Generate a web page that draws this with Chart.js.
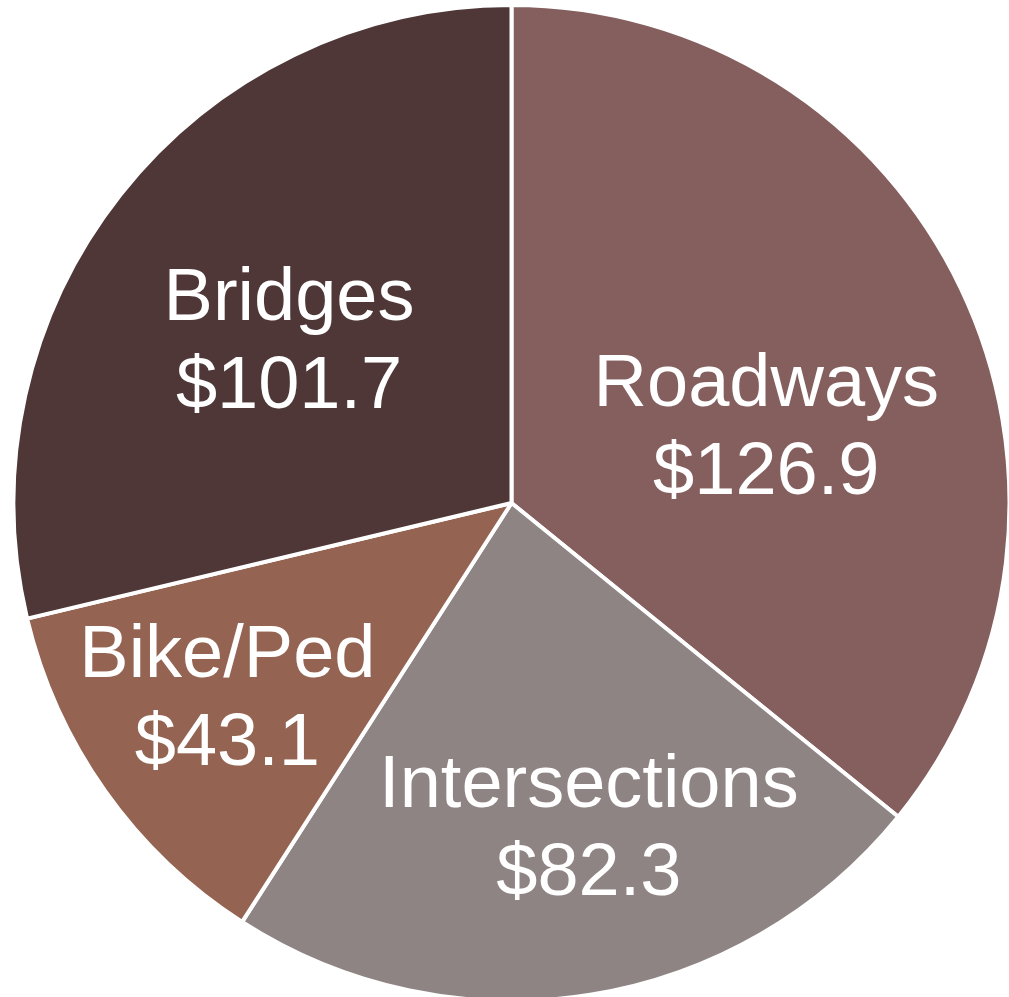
<!DOCTYPE html>
<html>
<head>
<meta charset="utf-8">
<script src="https://cdn.jsdelivr.net/npm/chart.js@4/dist/chart.umd.min.js"></script>
<style>
  html, body { margin: 0; padding: 0; background: #fff; overflow: hidden; }
  canvas { display: block; }
</style>
</head>
<body>
<canvas id="spendChart" width="1009" height="997"></canvas>
<script>
// Program spending by category ($ millions)
const categories = ['Roadways', 'Intersections', 'Bike/Ped', 'Bridges'];
const amounts = [126.9, 82.3, 43.1, 101.7];
const sliceColors = ['#855e5e', '#8f8484', '#946351', '#4f3738'];

// nudges from each slice's centroid to where its label sits
const labelNudge = [[30, 34], [38, 82], [-81, 54], [-27, -5]];

const sliceLabels = {
    id: 'sliceLabels',
    afterDatasetsDraw(chart) {
        const ctx = chart.ctx;
        const meta = chart.getDatasetMeta(0);
        ctx.save();
        ctx.fillStyle = '#ffffff';
        ctx.font = '74px "Liberation Sans", Arial, sans-serif';
        ctx.textAlign = 'center';
        ctx.textBaseline = 'middle';
        meta.data.forEach((arc, i) => {
            const pos = arc.tooltipPosition();
            const x = pos.x + labelNudge[i][0];
            const y = pos.y + labelNudge[i][1];
            ctx.fillText(categories[i], x, y - 44);
            ctx.fillText('$' + amounts[i].toFixed(1), x, y + 44);
        });
        ctx.restore();
    }
};

const ctx = document.getElementById('spendChart').getContext('2d');
const spendChart = new Chart(ctx, {
    type: 'pie',
    data: {
        labels: categories,
        datasets: [{
            data: amounts,
            backgroundColor: sliceColors,
            borderColor: '#ffffff',
            borderWidth: 4,
            radius: 498
        }]
    },
    options: {
        responsive: false,
        animation: false,
        layout: { padding: { left: 14, top: 9, right: 0, bottom: 0 } },
        plugins: {
            legend: { display: false },
            tooltip: { enabled: false }
        }
    },
    plugins: [sliceLabels]
});
</script>
</body>
</html>
